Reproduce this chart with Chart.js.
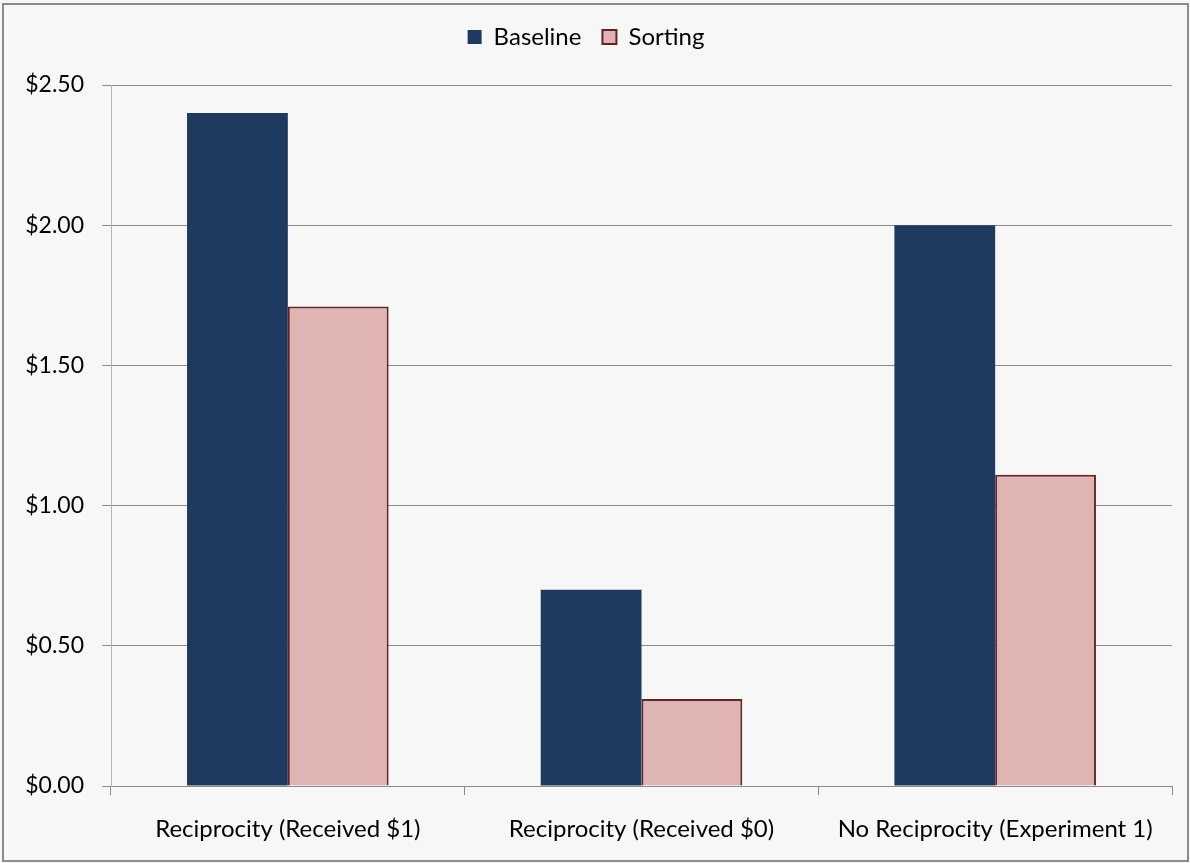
<!DOCTYPE html>
<html>
<head>
<meta charset="utf-8">
<script src="https://cdn.jsdelivr.net/npm/chart.js@4"></script>
<style>
  html, body { margin: 0; padding: 0; background: #f7f7f7; }
  #wrap { width: 1190px; height: 863px; position: relative; }
</style>
</head>
<body>
<div id="wrap"><canvas id="c" width="1190" height="863"></canvas></div>
<script>
const categories = [
  'Reciprocity (Received $1)',
  'Reciprocity (Received $0)',
  'No Reciprocity (Experiment 1)'
];
const baselineValues = [2.40, 0.70, 2.00];
const sortingValues = [1.71, 0.31, 1.11];
const yTickValues = [0, 0.5, 1.0, 1.5, 2.0, 2.5];

const FONT = 'Lato, "Open Sans", sans-serif';
const FONT_SIZE = 23;
const LABEL_FONT_SIZE = 24;

// Outer frame around the whole chart
const framePlugin = {
  id: 'frame',
  beforeDraw(chart) {
    const ctx = chart.ctx;
    ctx.save();
    ctx.fillStyle = '#f7f7f7';
    ctx.fillRect(0, 0, chart.width, chart.height);
    ctx.strokeStyle = '#8c8c8c';
    ctx.lineWidth = 2;
    ctx.strokeRect(3, 4, chart.width - 5, chart.height - 6);
    ctx.restore();
  }
};

// Give the legend band a fixed height so the plot starts lower
const legendBandPlugin = {
  id: 'legendBand',
  afterInit(chart) {
    const lg = chart.legend;
    if (!lg || lg._bandPatched) return;
    const fit = lg.fit.bind(lg);
    lg.fit = function () { fit(); this.height = 81; };
    lg._bandPatched = true;
  }
};

new Chart(document.getElementById('c'), {
  type: 'bar',
  data: {
    labels: categories,
    datasets: [
      {
        label: 'Baseline',
        data: baselineValues,
        backgroundColor: '#1f3a60',
        borderColor: '#1f3a60',
        borderWidth: 0
      },
      {
        label: 'Sorting',
        data: sortingValues,
        backgroundColor: '#e0b4b3',
        borderColor: '#632523',
        borderWidth: 2
      }
    ]
  },
  options: {
    responsive: false,
    animation: false,
    devicePixelRatio: 1,
    layout: { padding: { top: 4, right: 18, left: 0, bottom: 0 } },
    datasets: {
      bar: { categoryPercentage: 0.57, barPercentage: 1.0 }
    },
    plugins: {
      legend: {
        position: 'top',
        labels: {
          font: { family: FONT, size: LABEL_FONT_SIZE },
          color: '#000',
          boxWidth: 14,
          boxHeight: 14,
          padding: 21
        }
      },
      tooltip: { enabled: false }
    },
    scales: {
      x: {
        offset: true,
        grid: {
          offset: true,
          drawOnChartArea: false,
          drawTicks: true,
          tickLength: 9,
          color: '#8a8a8a'
        },
        border: { color: '#8a8a8a', width: 1 },
        ticks: {
          font: { family: FONT, size: LABEL_FONT_SIZE },
          color: '#000',
          padding: 20,
          maxRotation: 0
        },
        afterFit(scale) { scale.height = 77; }
      },
      y: {
        min: 0,
        max: 2.5,
        afterBuildTicks(scale) {
          scale.ticks = yTickValues.map(v => ({ value: v }));
        },
        grid: {
          color: '#8a8a8a',
          tickLength: 9,
          drawTicks: true
        },
        border: { color: '#b4b4b4', width: 1 },
        ticks: {
          font: { family: FONT, size: FONT_SIZE },
          color: '#000',
          padding: 18,
          callback: v => '$' + Number(v).toFixed(2)
        },
        afterFit(scale) { scale.width = 111; }
      }
    }
  },
  plugins: [framePlugin, legendBandPlugin]
});
</script>
</body>
</html>
